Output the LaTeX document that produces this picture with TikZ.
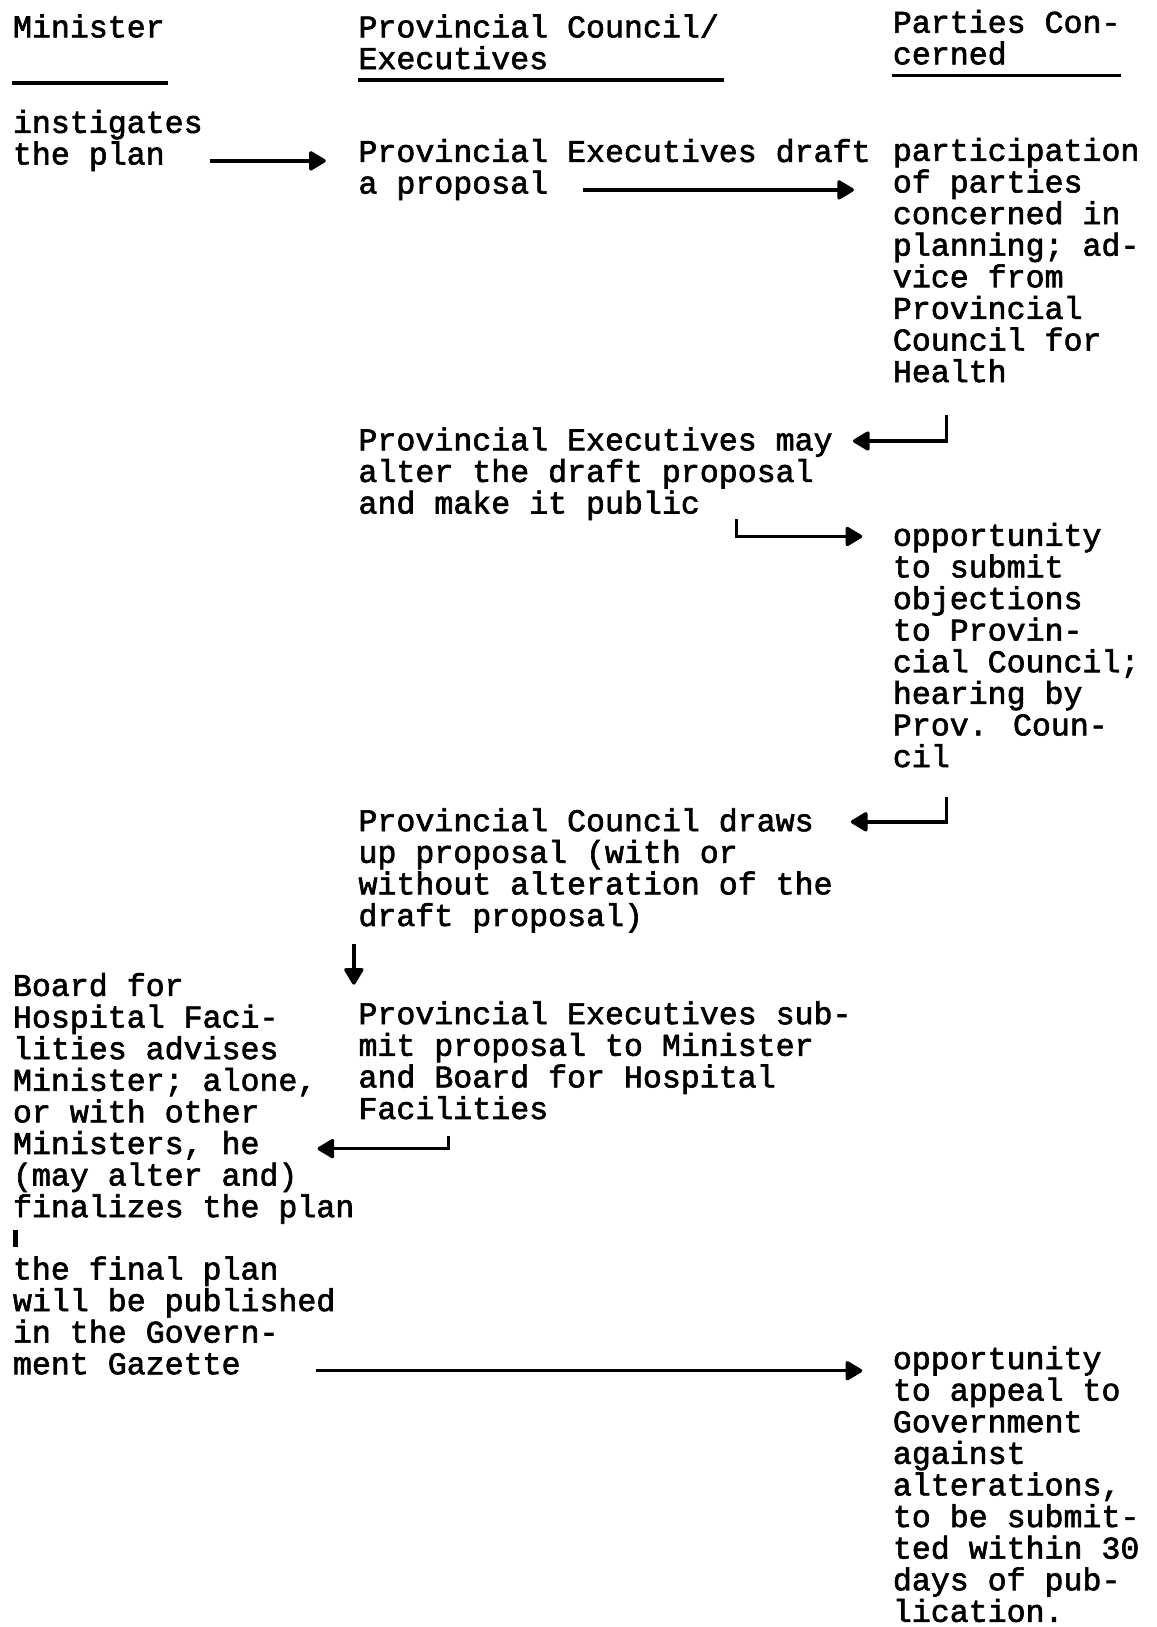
\documentclass[tikz,border=0pt]{standalone}
\usepackage{fontspec}
\newfontfamily\tw[FakeBold=2]{Liberation Mono}
\usetikzlibrary{arrows.meta}
\begin{document}
\begin{tikzpicture}[x=0.394pt,y=-0.394pt,
  txt/.style={font=\tw\fontsize{12}{12}\selectfont, align=left, anchor=base west, inner sep=0pt},
  arr/.style={line width=1.3pt, -{Triangle[length=7pt,width=8pt,round]}},
  rulel/.style={line width=1.3pt}]
\useasboundingbox[fill=white] (0,0) rectangle (1115,1568);
% headers (positions are baselines of the last line)
\node[txt] (hmin) at (12,36) {Minister};
\node[txt] (hprov) at (345,66.5) {Provincial Council/\\Executives};
\node[txt] (hpart) at (860,62) {Parties Con-\\cerned};
\draw[rulel] (12,80) -- (162,80);
\draw[rulel] (345,77) -- (698,77);
\draw[rulel] (860,73) -- (1080,73);
% blocks
\node[txt] (instig) at (12,158.5) {instigates\\the plan};
\node[txt] (draft) at (345,186.5) {Provincial Executives draft\\a proposal};
\node[txt] (partic) at (860,368.2) {participation\\of parties\\concerned in\\planning; ad-\\vice from\\Provincial\\Council for\\Health};
\node[txt] (may) at (345,494.9) {Provincial Executives may\\alter the draft proposal\\and make it public};
\node[txt] (opp1) at (860,739.2) {opportunity\\to submit\\objections\\to Provin-\\cial Council;\\hearing by\\Prov. Coun-\\cil};
\node[txt] (draws) at (345,892.4) {Provincial Council draws\\up proposal (with or\\without alteration of the\\draft proposal)};
\node[txt] (submit) at (345,1078.4) {Provincial Executives sub-\\mit proposal to Minister\\and Board for Hospital\\Facilities};
\node[txt] (board) at (12,1173) {Board for\\Hospital Faci-\\lities advises\\Minister; alone,\\or with other\\Ministers, he\\(may alter and)\\finalizes the plan};
\node[txt] (final) at (12,1324.4) {the final plan\\will be published\\in the Govern-\\ment Gazette};
\node[txt] (opp2) at (860,1563) {opportunity\\to appeal to\\Government\\against\\alterations,\\to be submit-\\ted within 30\\days of pub-\\lication.};
% connector end points
\coordinate (a1s) at (202,155); \coordinate (a1e) at (314,155);
\coordinate (a2s) at (562,183); \coordinate (a2e) at (823,183);
\coordinate (a3s) at (912,400); \coordinate (a3e) at (822,425);
\coordinate (a4s) at (710,500); \coordinate (a4e) at (831,517);
\coordinate (a5s) at (912,768); \coordinate (a5e) at (820,792);
\coordinate (a6s) at (341,910); \coordinate (a6e) at (341,949);
\coordinate (a7s) at (432,1095); \coordinate (a7e) at (306,1107);
\coordinate (b1s) at (15,1185); \coordinate (b1e) at (15,1202);
\coordinate (a8s) at (305,1321); \coordinate (a8e) at (831,1321);
% connectors
\draw[arr] (a1s) -- (a1e);
\draw[arr] (a2s) -- (a2e);
\draw[arr] (a3s) |- (a3e);
\draw[arr] (a4s) |- (a4e);
\draw[arr] (a5s) |- (a5e);
\draw[arr] (a6s) -- (a6e);
\draw[arr] (a7s) |- (a7e);
\draw[line width=2pt] (b1s) -- (b1e);
\draw[arr] (a8s) -- (a8e);
\end{tikzpicture}
\end{document}
